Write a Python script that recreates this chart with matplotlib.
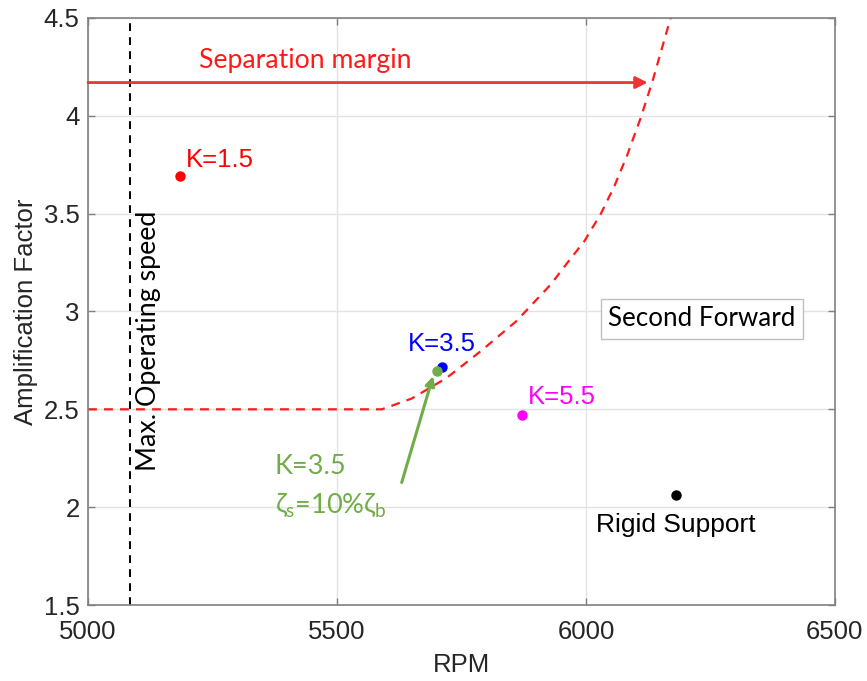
import numpy as np
import matplotlib.pyplot as plt

plt.rcParams["font.family"] = ["Liberation Sans", "DejaVu Sans"]
plt.rcParams["mathtext.fontset"] = "custom"
plt.rcParams["mathtext.rm"] = "Open Sans"
plt.rcParams["mathtext.it"] = "Open Sans"

# ---- data ----
# separation margin boundary (flat at 2.5, then rising)
limite_rpm = [5000, 5590, 5650, 5720, 5790, 5860, 5930, 5963, 5997, 6030, 6057, 6083, 6110, 6134, 6170]
limite_af = [2.5, 2.5, 2.555, 2.66, 2.80, 2.95, 3.14, 3.25, 3.36, 3.50, 3.64, 3.80, 3.99, 4.18, 4.5]

max_op_rpm = 5085

casos = ["K=1.5", "K=3.5", "K=5.5", "Rigid Support"]
casos_rpm = [5185, 5711, 5872, 6180]
casos_af = [3.69, 2.715, 2.47, 2.06]
casos_cor = ["#ff0000", "#0000ff", "#ff00ff", "#000000"]

amort_rpm = 5701   # K=3.5 with zeta_s = 10% zeta_b
amort_af = 2.695

sep_af = 4.17
sep_fim = 6124

xticks = [5000, 5500, 6000, 6500]
yticks = [1.5, 2, 2.5, 3, 3.5, 4, 4.5]
ylabels = ["1.5", "2", "2.5", "3", "3.5", "4", "4.5"]

verde = "#70ad47"
cinza = "#808080"
fs = 18.5

fig = plt.figure(figsize=(8.67, 6.81), dpi=100)
ax = fig.add_axes([0.1015, 0.1116, 0.8615, 0.862])

ax.plot(limite_rpm, limite_af, "--", color="#ff1a1a", lw=1.6, dashes=(4, 3.2))
ax.axvline(max_op_rpm, color="black", ls="--", lw=1.4, dashes=(4, 3.2))

for nome, x, y, c in zip(casos, casos_rpm, casos_af, casos_cor):
    ax.plot(x, y, "o", color=c, ms=6.5, zorder=5)
ax.plot(amort_rpm, amort_af, "o", color=verde, ms=6.5, zorder=6)

ax.text(5197, 3.736, casos[0], color=casos_cor[0], fontsize=fs, va="baseline")
ax.text(5643, 2.797, casos[1], color=casos_cor[1], fontsize=fs, va="baseline")
ax.text(5884, 2.526, casos[2], color=casos_cor[2], fontsize=fs, va="baseline")
ax.text(casos_rpm[3], 1.874, casos[3], color=casos_cor[3], fontsize=19,
        va="baseline", ha="center")

# separation margin arrow
ax.annotate("", xy=(sep_fim, sep_af), xytext=(5000, sep_af),
            arrowprops=dict(arrowstyle="-|>", color="#f03232", lw=2.0,
                            mutation_scale=18, shrinkA=0, shrinkB=0))
ax.text(5223, 4.285, "Separation margin", color="#ff1a1a", fontsize=19.2,
        family=["Lato", "DejaVu Sans"], va="center")

ax.text(5122, 2.85, "Max. Operating speed", rotation=90, fontsize=19.3,
        family=["Lato", "DejaVu Sans"], va="center", ha="center")

ax.text(6233, 2.962, "Second Forward", fontsize=18.7, family=["Lato", "DejaVu Sans"],
        ha="center", va="center",
        bbox=dict(boxstyle="square,pad=0.28", fc="white", ec="#bfbfbf", lw=1))

# damped case arrow and label
ax.annotate("", xy=(5693, 2.67), xytext=(5630, 2.126),
            arrowprops=dict(arrowstyle="-|>", color=verde, lw=2.2,
                            mutation_scale=14, shrinkA=0, shrinkB=0))
ax.text(5375, 2.167, "K=3.5", color=verde, fontsize=19.5,
        family=["Lato", "DejaVu Sans"], va="baseline")
ax.text(5375, 1.967, r"$\mathregular{\zeta_s}$=10%$\mathregular{\zeta_b}$", color=verde,
        fontsize=19.5, family=["Lato", "DejaVu Sans"], va="baseline")

ax.set_xlim(5000, 6500)
ax.set_ylim(1.5, 4.5)
ax.set_xticks(xticks)
ax.set_yticks(yticks)
ax.set_yticklabels(ylabels)
ax.grid(True, color="#e3e3e3", lw=1)
ax.set_axisbelow(True)
ax.tick_params(direction="in", length=5, width=1, colors=cinza, labelcolor="#262626",
               labelsize=fs, top=True, right=True)
ax.tick_params(axis="x", pad=11)
ax.tick_params(axis="y", pad=6)
for s in ax.spines.values():
    s.set_color(cinza)
    s.set_linewidth(1.2)

ax.set_xlabel("RPM", fontsize=fs, color="#262626", labelpad=6)
ax.set_ylabel("Amplification Factor", fontsize=fs, color="#262626", labelpad=4)

fig.savefig("out.png", dpi=100)
